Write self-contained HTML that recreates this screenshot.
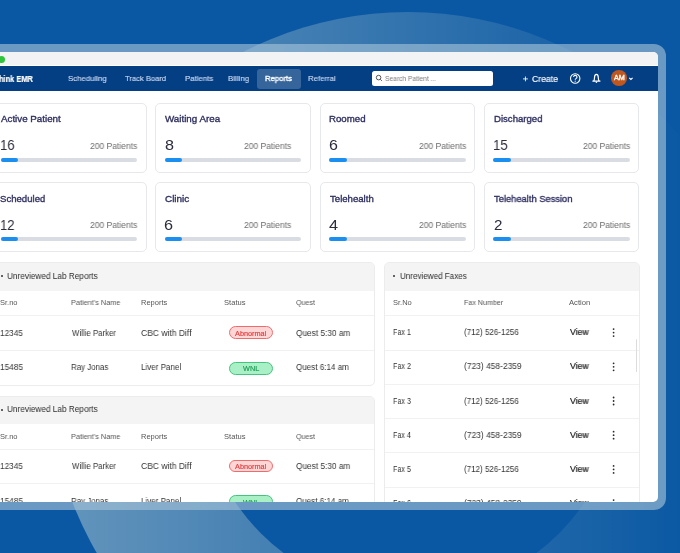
<!DOCTYPE html>
<html><head><meta charset="utf-8">
<style>
*{margin:0;padding:0;box-sizing:border-box}
html,body{width:680px;height:553px;overflow:hidden}
body{position:relative;background:#0a58a3;font-family:"Liberation Sans",sans-serif}
.bg{position:absolute;left:0;top:0}
.frame{position:absolute;left:-30px;top:44px;width:696px;height:466px;background:rgba(163,193,215,0.63);border-radius:12px}
.screen{position:absolute;left:-22px;top:52px;width:680px;height:450px;background:#fff;border-radius:5px;overflow:hidden}
.chrome{position:absolute;left:0;top:0;width:680px;height:13px;background:#f2f3f5}
.dot{position:absolute;left:19.8px;top:3.9px;width:7px;height:7px;border-radius:50%;background:#2fc53b}
.nav{position:absolute;left:0;top:14px;width:680px;height:24.5px;background:#043f84}
.pill{position:absolute;left:279px;top:3px;width:43.5px;height:19.5px;background:rgba(255,255,255,0.2);border-radius:3px}
.search{position:absolute;left:393.9px;top:5px;width:121px;height:14.8px;background:#fff;border-radius:2.5px}
.avatar{position:absolute;left:633.3px;top:4.3px;width:15.6px;height:15.6px;border-radius:50%;background:#c0571f}
.card{position:absolute;width:155.5px;height:70px;border:1px solid #e6e8ec;border-radius:5px;background:#fff}
.track{position:absolute;left:8.6px;top:54.6px;width:136.5px;height:3.4px;border-radius:2px;background:#d9dde3}
.fill{position:absolute;left:0;top:0;width:17.5px;height:3.4px;border-radius:2px;background:#1a8ff0}
.sec{position:absolute;border:1px solid #ececec;border-radius:5px;background:#fff;overflow:hidden}
.sech{position:absolute;left:0;top:0;width:100%;height:27.6px;background:#f4f4f4}
.line{position:absolute;height:1px;background:#f1f1f1}
.t{position:absolute;white-space:nowrap;transform-origin:0 0;will-change:transform}
.bul{position:absolute;width:2.4px;height:2.4px;border-radius:50%;background:#333}
.badge{position:absolute;width:44.2px;height:12.8px;border-radius:7px;font-size:6.6px;line-height:10.4px;text-align:center}
.ab{background:#ffd6d6;border:1px solid #f06c6c;color:#d63a3a}
.wn{background:#aaf0c7;border:1px solid #45c47e;color:#1f9a55}
.kebab{position:absolute;width:1.6px;height:1.6px;border-radius:50%;background:#333;box-shadow:0 -2.7px 0 #333,0 2.7px 0 #333}
</style></head><body>
<svg class="bg" width="680" height="553" viewBox="0 0 680 553">
  <defs><linearGradient id="cg" x1="0" y1="0" x2="690" y2="0" gradientUnits="userSpaceOnUse"><stop offset="0" stop-color="#ffffe6" stop-opacity="0.40"/><stop offset="1" stop-color="#ffffe6" stop-opacity="0"/></linearGradient></defs>
  <circle cx="408" cy="372" r="360" fill="url(#cg)"/>
  <circle cx="410" cy="384" r="211" fill="#0a58a3"/>
</svg>
<div class="frame"></div>
<div class="screen">
  <div class="chrome"><div class="dot"></div></div>
  <div class="nav">
    <div class="pill"></div>
    <div class="search"></div>
    <div class="avatar"></div>
  </div>
</div>
<!-- absolute content in page coords -->
<div style="position:absolute;left:0;top:0;width:658px;height:502px;overflow:hidden">
<div class=card style='left:-8.8px;top:102.8px'><div class=track><div class=fill></div></div></div>
<div class=card style='left:155.4px;top:102.8px'><div class=track><div class=fill></div></div></div>
<div class=card style='left:319.8px;top:102.8px'><div class=track><div class=fill></div></div></div>
<div class=card style='left:483.9px;top:102.8px'><div class=track><div class=fill></div></div></div>
<div class=card style='left:-8.8px;top:181.8px'><div class=track><div class=fill></div></div></div>
<div class=card style='left:155.4px;top:181.8px'><div class=track><div class=fill></div></div></div>
<div class=card style='left:319.8px;top:181.8px'><div class=track><div class=fill></div></div></div>
<div class=card style='left:483.9px;top:181.8px'><div class=track><div class=fill></div></div></div>
<div class="sec" style="left:-12px;top:262px;width:387px;height:123.6px"><div class="sech"></div></div>
<div class="sec" style="left:-12px;top:395.6px;width:387px;height:140px"><div class="sech"></div></div>
<div class="sec" style="left:384.3px;top:262px;width:255.5px;height:260px"><div class="sech"></div></div>
<div class="line" style="left:-12px;top:315px;width:386px"></div>
<div class="line" style="left:-12px;top:349.5px;width:386px"></div>
<div class="line" style="left:-12px;top:448.6px;width:386px"></div>
<div class="line" style="left:-12px;top:483.2px;width:386px"></div>
<div class="line" style="left:385px;top:315.3px;width:254px"></div>
<div class="line" style="left:385px;top:349.7px;width:254px"></div>
<div class="line" style="left:385px;top:384px;width:254px"></div>
<div class="line" style="left:385px;top:418.2px;width:254px"></div>
<div class="line" style="left:385px;top:452.4px;width:254px"></div>
<div class="line" style="left:385px;top:486.6px;width:254px"></div>
<div style="position:absolute;left:635.5px;top:339.4px;width:1.6px;height:33px;background:#dcdcdc;border-radius:1px"></div>
<div class="bul" style="left:0.6px;top:275.1px"></div>
<div class="bul" style="left:0.6px;top:408.5px"></div>
<div class="bul" style="left:393px;top:275.1px"></div>
<div class="badge ab" style="left:228.7px;top:326.2px"></div>
<div class="badge wn" style="left:228.7px;top:361.8px"></div>
<div class="badge ab" style="left:228.7px;top:459.6px"></div>
<div class="badge wn" style="left:228.7px;top:495.2px"></div>
<span class=t style="left:-1.03px;top:74.54px;font-size:8.4px;line-height:8.4px;font-weight:700;-webkit-text-stroke:0.2px #ffffff;color:#ffffff;transform:scaleX(0.8876)">hink EMR</span>
<span class=t style="left:68.05px;top:74.88px;font-size:8.0px;line-height:8.0px;font-weight:400;-webkit-text-stroke:0.15px #cddaf0;color:#cddaf0;transform:scaleX(0.9762)">Scheduling</span>
<span class=t style="left:125.08px;top:74.88px;font-size:8.0px;line-height:8.0px;font-weight:400;-webkit-text-stroke:0.15px #cddaf0;color:#cddaf0;transform:scaleX(0.9498)">Track Board</span>
<span class=t style="left:185.19px;top:74.88px;font-size:8.0px;line-height:8.0px;font-weight:400;-webkit-text-stroke:0.15px #cddaf0;color:#cddaf0;transform:scaleX(0.9744)">Patients</span>
<span class=t style="left:228.25px;top:74.88px;font-size:8.0px;line-height:8.0px;font-weight:400;-webkit-text-stroke:0.15px #cddaf0;color:#cddaf0;transform:scaleX(0.9861)">Billing</span>
<span class=t style="left:264.74px;top:74.88px;font-size:8.0px;line-height:8.0px;font-weight:400;-webkit-text-stroke:0.35px #ffffff;color:#ffffff;transform:scaleX(0.9632)">Reports</span>
<span class=t style="left:308.06px;top:74.88px;font-size:8.0px;line-height:8.0px;font-weight:400;-webkit-text-stroke:0.15px #cddaf0;color:#cddaf0;transform:scaleX(0.9721)">Referral</span>
<span class=t style="left:384.88px;top:75.42px;font-size:7.0px;line-height:7.0px;font-weight:400;color:#7a7a7a;transform:scaleX(0.9527)">Search Patient ...</span>
<span class=t style="left:531.75px;top:74.39px;font-size:9.4px;line-height:9.4px;font-weight:400;-webkit-text-stroke:0.15px #ffffff;color:#ffffff;transform:scaleX(0.9233)">Create</span>
<span class=t style="left:614.18px;top:75.16px;font-size:6.6px;line-height:6.6px;font-weight:400;-webkit-text-stroke:0.35px #ffffff;color:#ffffff;transform:scaleX(1.0922)">AM</span>
<span class=t style="left:1.01px;top:114.42px;font-size:9.6px;line-height:9.6px;font-weight:400;-webkit-text-stroke:0.35px #2f3060;color:#2f3060;transform:scaleX(1.0181)">Active Patient</span>
<span class=t style="left:-0.18px;top:138.36px;font-size:14.4px;line-height:14.4px;font-weight:400;color:#2b2c3c;transform:scaleX(0.9130)">16</span>
<span class=t style="left:90.17px;top:141.63px;font-size:9.0px;line-height:9.0px;font-weight:400;color:#6c6c6c;transform:scaleX(0.9457)">200 Patients</span>
<span class=t style="left:165.44px;top:114.42px;font-size:9.6px;line-height:9.6px;font-weight:400;-webkit-text-stroke:0.35px #2f3060;color:#2f3060;transform:scaleX(1.0192)">Waiting Area</span>
<span class=t style="left:164.91px;top:138.36px;font-size:14.4px;line-height:14.4px;font-weight:400;color:#2b2c3c;transform:scaleX(1.1229)">8</span>
<span class=t style="left:244.05px;top:141.63px;font-size:9.0px;line-height:9.0px;font-weight:400;color:#6c6c6c;transform:scaleX(0.9445)">200 Patients</span>
<span class=t style="left:329.29px;top:114.42px;font-size:9.6px;line-height:9.6px;font-weight:400;-webkit-text-stroke:0.35px #2f3060;color:#2f3060;transform:scaleX(1.0077)">Roomed</span>
<span class=t style="left:328.90px;top:138.36px;font-size:14.4px;line-height:14.4px;font-weight:400;color:#2b2c3c;transform:scaleX(1.1111)">6</span>
<span class=t style="left:419.22px;top:141.63px;font-size:9.0px;line-height:9.0px;font-weight:400;color:#6c6c6c;transform:scaleX(0.9457)">200 Patients</span>
<span class=t style="left:494.29px;top:114.42px;font-size:9.6px;line-height:9.6px;font-weight:400;-webkit-text-stroke:0.35px #2f3060;color:#2f3060;transform:scaleX(0.9980)">Discharged</span>
<span class=t style="left:493.00px;top:138.36px;font-size:14.4px;line-height:14.4px;font-weight:400;color:#2b2c3c;transform:scaleX(0.9186)">15</span>
<span class=t style="left:583.05px;top:141.63px;font-size:9.0px;line-height:9.0px;font-weight:400;color:#6c6c6c;transform:scaleX(0.9445)">200 Patients</span>
<span class=t style="left:0.47px;top:193.92px;font-size:9.6px;line-height:9.6px;font-weight:400;-webkit-text-stroke:0.35px #2f3060;color:#2f3060;transform:scaleX(0.9971)">Scheduled</span>
<span class=t style="left:-0.47px;top:217.86px;font-size:14.4px;line-height:14.4px;font-weight:400;color:#2b2c3c;transform:scaleX(0.9050)">12</span>
<span class=t style="left:90.17px;top:221.13px;font-size:9.0px;line-height:9.0px;font-weight:400;color:#6c6c6c;transform:scaleX(0.9457)">200 Patients</span>
<span class=t style="left:164.80px;top:193.92px;font-size:9.6px;line-height:9.6px;font-weight:400;-webkit-text-stroke:0.35px #2f3060;color:#2f3060;transform:scaleX(1.0340)">Clinic</span>
<span class=t style="left:164.37px;top:217.86px;font-size:14.4px;line-height:14.4px;font-weight:400;color:#2b2c3c;transform:scaleX(1.1278)">6</span>
<span class=t style="left:244.05px;top:221.13px;font-size:9.0px;line-height:9.0px;font-weight:400;color:#6c6c6c;transform:scaleX(0.9445)">200 Patients</span>
<span class=t style="left:329.69px;top:193.92px;font-size:9.6px;line-height:9.6px;font-weight:400;-webkit-text-stroke:0.35px #2f3060;color:#2f3060;transform:scaleX(0.9988)">Telehealth</span>
<span class=t style="left:328.97px;top:217.86px;font-size:14.4px;line-height:14.4px;font-weight:400;color:#2b2c3c;transform:scaleX(1.1347)">4</span>
<span class=t style="left:419.22px;top:221.13px;font-size:9.0px;line-height:9.0px;font-weight:400;color:#6c6c6c;transform:scaleX(0.9457)">200 Patients</span>
<span class=t style="left:494.19px;top:193.92px;font-size:9.6px;line-height:9.6px;font-weight:400;-webkit-text-stroke:0.35px #2f3060;color:#2f3060;transform:scaleX(0.9743)">Telehealth Session</span>
<span class=t style="left:493.64px;top:217.86px;font-size:14.4px;line-height:14.4px;font-weight:400;color:#2b2c3c;transform:scaleX(1.0531)">2</span>
<span class=t style="left:583.05px;top:221.13px;font-size:9.0px;line-height:9.0px;font-weight:400;color:#6c6c6c;transform:scaleX(0.9445)">200 Patients</span>
<span class=t style="left:6.96px;top:272.05px;font-size:9.1px;line-height:9.1px;font-weight:400;color:#2c2c2c;transform:scaleX(0.9060)">Unreviewed Lab Reports</span>
<span class=t style="left:0.42px;top:299.30px;font-size:7.5px;line-height:7.5px;font-weight:400;color:#565656;transform:scaleX(0.9984)">Sr.no</span>
<span class=t style="left:71.46px;top:299.30px;font-size:7.5px;line-height:7.5px;font-weight:400;color:#565656;transform:scaleX(0.9721)">Patient’s Name</span>
<span class=t style="left:141.39px;top:299.30px;font-size:7.5px;line-height:7.5px;font-weight:400;color:#565656;transform:scaleX(0.9847)">Reports</span>
<span class=t style="left:223.71px;top:299.30px;font-size:7.5px;line-height:7.5px;font-weight:400;color:#565656;transform:scaleX(1.0108)">Status</span>
<span class=t style="left:295.86px;top:299.30px;font-size:7.5px;line-height:7.5px;font-weight:400;color:#565656;transform:scaleX(0.9442)">Quest</span>
<span class=t style="left:-0.02px;top:328.62px;font-size:8.9px;line-height:8.9px;font-weight:400;color:#343434;transform:scaleX(0.9275)">12345</span>
<span class=t style="left:71.79px;top:328.62px;font-size:8.9px;line-height:8.9px;font-weight:400;color:#343434;transform:scaleX(0.8849)">Willie Parker</span>
<span class=t style="left:140.92px;top:328.62px;font-size:8.9px;line-height:8.9px;font-weight:400;color:#343434;transform:scaleX(0.9601)">CBC with Diff</span>
<span class=t style="left:295.81px;top:328.62px;font-size:8.9px;line-height:8.9px;font-weight:400;color:#343434;transform:scaleX(0.9323)">Quest 5:30 am</span>
<span class=t style="left:234.88px;top:330.02px;font-size:7.0px;line-height:7.0px;font-weight:400;-webkit-text-stroke:0.15px #e03c3c;color:#e03c3c;transform:scaleX(1.0451)">Abnormal</span>
<span class=t style="left:-0.02px;top:363.37px;font-size:8.9px;line-height:8.9px;font-weight:400;color:#343434;transform:scaleX(0.9360)">15485</span>
<span class=t style="left:71.22px;top:363.37px;font-size:8.9px;line-height:8.9px;font-weight:400;color:#343434;transform:scaleX(0.8890)">Ray Jonas</span>
<span class=t style="left:141.32px;top:363.37px;font-size:8.9px;line-height:8.9px;font-weight:400;color:#343434;transform:scaleX(0.9047)">Liver Panel</span>
<span class=t style="left:295.82px;top:363.37px;font-size:8.9px;line-height:8.9px;font-weight:400;color:#343434;transform:scaleX(0.9079)">Quest 6:14 am</span>
<span class=t style="left:242.72px;top:365.32px;font-size:7.0px;line-height:7.0px;font-weight:400;-webkit-text-stroke:0.15px #1c9a52;color:#1c9a52;transform:scaleX(1.0418)">WNL</span>
<span class=t style="left:6.96px;top:405.45px;font-size:9.1px;line-height:9.1px;font-weight:400;color:#2c2c2c;transform:scaleX(0.9060)">Unreviewed Lab Reports</span>
<span class=t style="left:0.42px;top:432.70px;font-size:7.5px;line-height:7.5px;font-weight:400;color:#565656;transform:scaleX(0.9984)">Sr.no</span>
<span class=t style="left:71.46px;top:432.70px;font-size:7.5px;line-height:7.5px;font-weight:400;color:#565656;transform:scaleX(0.9721)">Patient’s Name</span>
<span class=t style="left:141.39px;top:432.70px;font-size:7.5px;line-height:7.5px;font-weight:400;color:#565656;transform:scaleX(0.9847)">Reports</span>
<span class=t style="left:223.71px;top:432.70px;font-size:7.5px;line-height:7.5px;font-weight:400;color:#565656;transform:scaleX(1.0108)">Status</span>
<span class=t style="left:295.86px;top:432.70px;font-size:7.5px;line-height:7.5px;font-weight:400;color:#565656;transform:scaleX(0.9442)">Quest</span>
<span class=t style="left:-0.02px;top:462.02px;font-size:8.9px;line-height:8.9px;font-weight:400;color:#343434;transform:scaleX(0.9275)">12345</span>
<span class=t style="left:71.79px;top:462.02px;font-size:8.9px;line-height:8.9px;font-weight:400;color:#343434;transform:scaleX(0.8849)">Willie Parker</span>
<span class=t style="left:140.92px;top:462.02px;font-size:8.9px;line-height:8.9px;font-weight:400;color:#343434;transform:scaleX(0.9601)">CBC with Diff</span>
<span class=t style="left:295.81px;top:462.02px;font-size:8.9px;line-height:8.9px;font-weight:400;color:#343434;transform:scaleX(0.9323)">Quest 5:30 am</span>
<span class=t style="left:234.88px;top:463.42px;font-size:7.0px;line-height:7.0px;font-weight:400;-webkit-text-stroke:0.15px #e03c3c;color:#e03c3c;transform:scaleX(1.0451)">Abnormal</span>
<span class=t style="left:-0.02px;top:496.77px;font-size:8.9px;line-height:8.9px;font-weight:400;color:#343434;transform:scaleX(0.9360)">15485</span>
<span class=t style="left:71.22px;top:496.77px;font-size:8.9px;line-height:8.9px;font-weight:400;color:#343434;transform:scaleX(0.8890)">Ray Jonas</span>
<span class=t style="left:141.32px;top:496.77px;font-size:8.9px;line-height:8.9px;font-weight:400;color:#343434;transform:scaleX(0.9047)">Liver Panel</span>
<span class=t style="left:295.82px;top:496.77px;font-size:8.9px;line-height:8.9px;font-weight:400;color:#343434;transform:scaleX(0.9079)">Quest 6:14 am</span>
<span class=t style="left:242.72px;top:498.72px;font-size:7.0px;line-height:7.0px;font-weight:400;-webkit-text-stroke:0.15px #1c9a52;color:#1c9a52;transform:scaleX(1.0418)">WNL</span>
<span class=t style="left:399.77px;top:272.05px;font-size:9.1px;line-height:9.1px;font-weight:400;color:#2c2c2c;transform:scaleX(0.8864)">Unreviewed Faxes</span>
<span class=t style="left:392.87px;top:299.20px;font-size:7.5px;line-height:7.5px;font-weight:400;color:#565656;transform:scaleX(0.9883)">Sr.No</span>
<span class=t style="left:464.20px;top:299.20px;font-size:7.5px;line-height:7.5px;font-weight:400;color:#565656;transform:scaleX(0.9501)">Fax Number</span>
<span class=t style="left:568.78px;top:299.20px;font-size:7.5px;line-height:7.5px;font-weight:400;color:#565656;transform:scaleX(1.0175)">Action</span>
<span class=t style="left:392.60px;top:328.12px;font-size:8.9px;line-height:8.9px;font-weight:400;color:#343434;transform:scaleX(0.8107)">Fax 1</span>
<span class=t style="left:463.80px;top:328.12px;font-size:8.9px;line-height:8.9px;font-weight:400;color:#343434;transform:scaleX(0.9029)">(712) 526-1256</span>
<span class=t style="left:570.06px;top:328.12px;font-size:8.9px;line-height:8.9px;font-weight:400;-webkit-text-stroke:0.22px #222222;color:#222222;transform:scaleX(0.9732)">View</span>
<span class=t style="left:392.60px;top:362.39px;font-size:8.9px;line-height:8.9px;font-weight:400;color:#343434;transform:scaleX(0.8116)">Fax 2</span>
<span class=t style="left:463.77px;top:362.39px;font-size:8.9px;line-height:8.9px;font-weight:400;color:#343434;transform:scaleX(0.9500)">(723) 458-2359</span>
<span class=t style="left:570.06px;top:362.39px;font-size:8.9px;line-height:8.9px;font-weight:400;-webkit-text-stroke:0.22px #222222;color:#222222;transform:scaleX(0.9732)">View</span>
<span class=t style="left:392.61px;top:396.66px;font-size:8.9px;line-height:8.9px;font-weight:400;color:#343434;transform:scaleX(0.8090)">Fax 3</span>
<span class=t style="left:463.80px;top:396.66px;font-size:8.9px;line-height:8.9px;font-weight:400;color:#343434;transform:scaleX(0.9029)">(712) 526-1256</span>
<span class=t style="left:570.06px;top:396.66px;font-size:8.9px;line-height:8.9px;font-weight:400;-webkit-text-stroke:0.22px #222222;color:#222222;transform:scaleX(0.9732)">View</span>
<span class=t style="left:392.61px;top:430.93px;font-size:8.9px;line-height:8.9px;font-weight:400;color:#343434;transform:scaleX(0.8039)">Fax 4</span>
<span class=t style="left:463.77px;top:430.93px;font-size:8.9px;line-height:8.9px;font-weight:400;color:#343434;transform:scaleX(0.9500)">(723) 458-2359</span>
<span class=t style="left:570.06px;top:430.93px;font-size:8.9px;line-height:8.9px;font-weight:400;-webkit-text-stroke:0.22px #222222;color:#222222;transform:scaleX(0.9732)">View</span>
<span class=t style="left:392.61px;top:465.20px;font-size:8.9px;line-height:8.9px;font-weight:400;color:#343434;transform:scaleX(0.8081)">Fax 5</span>
<span class=t style="left:463.80px;top:465.20px;font-size:8.9px;line-height:8.9px;font-weight:400;color:#343434;transform:scaleX(0.9029)">(712) 526-1256</span>
<span class=t style="left:570.06px;top:465.20px;font-size:8.9px;line-height:8.9px;font-weight:400;-webkit-text-stroke:0.22px #222222;color:#222222;transform:scaleX(0.9732)">View</span>
<span class=t style="left:392.61px;top:499.47px;font-size:8.9px;line-height:8.9px;font-weight:400;color:#343434;transform:scaleX(0.8090)">Fax 6</span>
<span class=t style="left:463.77px;top:499.47px;font-size:8.9px;line-height:8.9px;font-weight:400;color:#343434;transform:scaleX(0.9500)">(723) 458-2359</span>
<span class=t style="left:570.06px;top:499.47px;font-size:8.9px;line-height:8.9px;font-weight:400;-webkit-text-stroke:0.22px #222222;color:#222222;transform:scaleX(0.9732)">View</span>
<svg style="position:absolute;left:0;top:0" width="680" height="553"><g fill="#2a2a2a"><circle cx="613.6" cy="329.10" r="0.9"/><circle cx="613.6" cy="332.60" r="0.9"/><circle cx="613.6" cy="336.10" r="0.9"/><circle cx="613.6" cy="363.30" r="0.9"/><circle cx="613.6" cy="366.80" r="0.9"/><circle cx="613.6" cy="370.30" r="0.9"/><circle cx="613.6" cy="397.50" r="0.9"/><circle cx="613.6" cy="401.00" r="0.9"/><circle cx="613.6" cy="404.50" r="0.9"/><circle cx="613.6" cy="431.70" r="0.9"/><circle cx="613.6" cy="435.20" r="0.9"/><circle cx="613.6" cy="438.70" r="0.9"/><circle cx="613.6" cy="465.90" r="0.9"/><circle cx="613.6" cy="469.40" r="0.9"/><circle cx="613.6" cy="472.90" r="0.9"/><circle cx="613.6" cy="500.10" r="0.9"/><circle cx="613.6" cy="503.60" r="0.9"/><circle cx="613.6" cy="507.10" r="0.9"/></g></svg>
<!-- nav icons -->
<svg style="position:absolute;left:0;top:0" width="680" height="553">
  <g fill="none" stroke="#444" stroke-width="0.9">
    <circle cx="378.6" cy="77.6" r="2.3"/><line x1="380.3" y1="79.3" x2="381.9" y2="80.9"/>
  </g>
  <g stroke="#fff" stroke-width="1.1" fill="none">
    <line x1="523" y1="78.9" x2="527.9" y2="78.9" stroke-width="0.85"/><line x1="525.45" y1="76.5" x2="525.45" y2="81.3" stroke-width="0.85"/>
    <circle cx="575.2" cy="78.5" r="4.7"/>
    <path d="M573.6 77.1 a1.7 1.7 0 1 1 2.4 1.5 c-0.5 0.3 -0.8 0.6 -0.8 1.2"/>
    <path stroke-width="1.2" stroke-linejoin="round" d="M592.4 81.2 h8 M593.5 81.2 c0.9 -0.8 1 -1.8 1 -3.4 c0 -2 0.8 -3.4 1.9 -3.4 c1.1 0 1.9 1.4 1.9 3.4 c0 1.6 0.1 2.6 1 3.4"/>
    <path d="M629.2 77.8 l1.7 1.6 l1.7 -1.6"/>
  </g>
  <circle cx="575.2" cy="81.2" r="0.6" fill="#fff"/>
  <circle cx="596.4" cy="82.3" r="0.8" fill="#fff"/>
</svg>
</div>
</body></html>
